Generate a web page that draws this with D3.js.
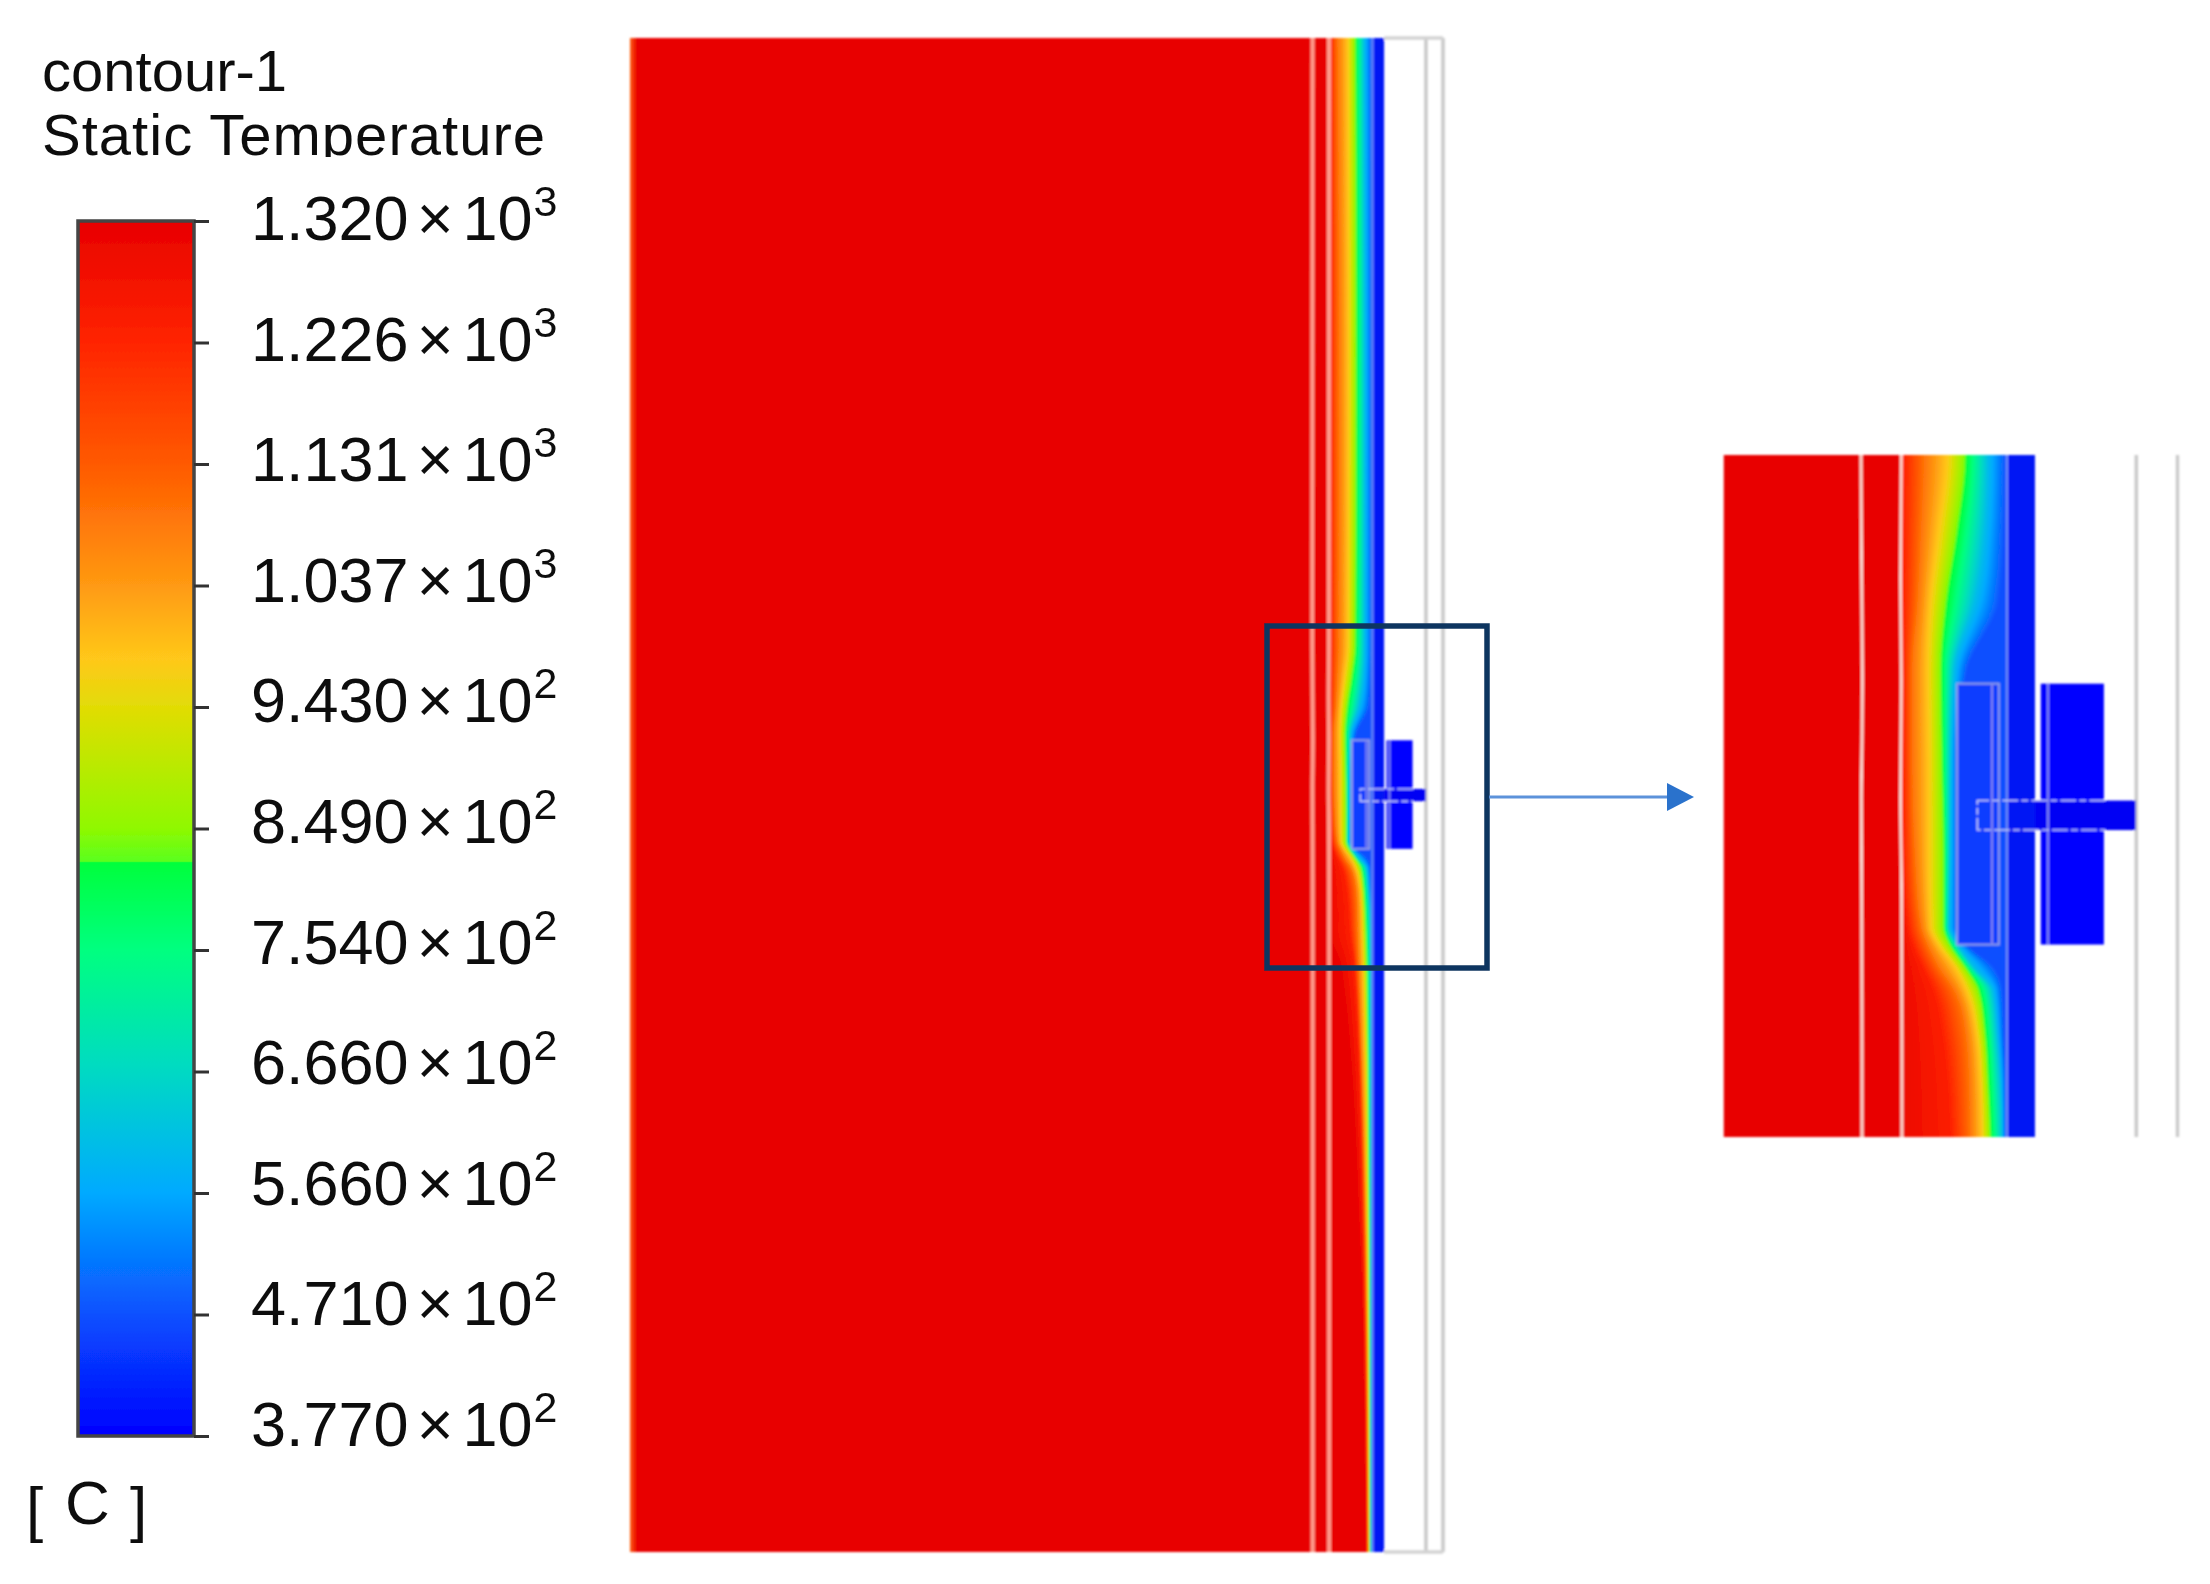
<!DOCTYPE html>
<html>
<head>
<meta charset="utf-8">
<script src="https://cdn.jsdelivr.net/npm/d3@7"></script>
<style>
html, body { margin: 0; padding: 0; background: #fff; }
text { font-family: "Liberation Sans", Arial, sans-serif; fill: #111; }
</style>
</head>
<body>
<svg id="renderer" width="2210" height="1584"></svg>
<script>
// legend
const tickValues = [1320, 1226, 1131, 1037, 943, 849, 754, 666, 566, 471, 377];
const stopTemps = [1320, 1226, 1131, 1037, 980, 943, 849, 823, 822, 754, 666, 566, 471, 377];
const stopColors = ['#e80000', '#ff2400', '#ff5a00', '#ff9a12', '#ffc81a', '#e2dc06', '#90f800', '#5aff1e',
                    '#00ff3c', '#00ff80', '#00dcc0', '#00aaff', '#0a50ff', '#0000ff'];

// isotherm positions along the plate, model units across (u) for each row down (v)
const rowV    = [0, 220, 430.7, 453.6, 473.9, 494.2, 521.2, 548.2, 569.8, 575.2, 582, 588.7, 602.2, 615.7, 632, 659, 850, 1074];
const iso1300 = [496.2, 496.2, 496.2, 496.2, 496.2, 496.2, 496.2, 496.2, 496.2, 496.2, 496.2, 496.2, 496.2, 496.2, 496.2, 505, 518, 522.8];
const iso1235 = [496.3, 496.3, 496.3, 496.3, 496.3, 496.3, 496.3, 496.3, 497.8, 499.2, 502.1, 505.1, 508, 509.5, 510.5, 514, 520.5, 523];
const iso1090 = [502, 503, 502.6, 501.7, 500.7, 499.2, 499.2, 499.9, 501.7, 503.6, 507, 511.4, 514.9, 515.8, 516.1, 517, 522, 524];
const iso975  = [509.5, 510, 509.5, 507, 504.6, 503.8, 504.1, 504.1, 504.6, 507, 511.9, 515.2, 518.3, 519.3, 519.7, 520.5, 523.3, 524.5];
const iso822  = [514.9, 515.5, 514.9, 512.4, 509.3, 507.7, 508, 508.5, 508.5, 510.3, 514.9, 518.8, 520.7, 521.5, 522.2, 523, 524.5, 525];
const iso600  = [521, 521.5, 521.2, 520.2, 517.3, 511.4, 510.5, 510.3, 510, 512.4, 517.3, 522.7, 524.1, 525.1, 525.6, 525.6, 525.8, 526];
const iso470  = [526.4, 526.6, 526.6, 526.1, 524.6, 515.3, 512.4, 512.4, 512.4, 515.3, 523.2, 525.6, 526.1, 526.6, 526.6, 526.8, 527, 527];
const isoLevels = [1300, 1235, 1090, 975, 822, 600, 470];
const isoCurves = [iso1300, iso1235, iso1090, iso975, iso822, iso600, iso470];

// joints between the layers
const jointV = [0, 430.7, 467.2, 498.2, 514.4, 532, 561.7, 632, 1074];
const joint1 = [484.4, 484.2, 484.4, 484.6, 484.5, 484.3, 484.4, 484.5, 484.5];
const joint2 = [496.1, 496, 495.8, 496, 495.9, 495.8, 496.1, 496.2, 496.2];

// plate parts, model units: [u0, u1, v0, v1]
const plateExtent = [0, 577, 0, 1074];
const wall = [527, 535.2];
const blockA = [512.4, 524.6, 498.2, 575.2];
const blockB = [536.9, 555.4, 498.2, 575.2];
const rod = [518.3, 564.7, 532.7, 541.4];
const greyLines = [564.9, 577];

const svg = d3.select('#renderer');
const defs = svg.append('defs');

const colorScale = d3.scaleLinear().domain(stopTemps).range(stopColors);

function addBlur(id, dev) {
    defs.append('filter').attr('id', id)
        .attr('filterUnits', 'userSpaceOnUse')
        .attr('x', 0).attr('y', 0).attr('width', 2210).attr('height', 1584)
        .append('feGaussianBlur').attr('stdDeviation', dev);
}
addBlur('blurField', 1.3);
addBlur('blurInset', 1.1);
addBlur('blurText', 0.6);

// colour bar ----------------------------------------------------------------
const barY = d3.scaleLinear().domain([1320, 377]).range([221, 1436]);
const tickY = d3.scalePoint().domain(tickValues).range([221, 1436]);
const labelY = d3.scalePoint().domain(tickValues).range([240, 1446]);

const grad = defs.append('linearGradient').attr('id', 'barGrad')
    .attr('x1', 0).attr('x2', 0).attr('y1', 0).attr('y2', 1);
stopTemps.forEach(function(t, i) {
    grad.append('stop').attr('offset', (barY(t) - 221) / (1436 - 221)).attr('stop-color', stopColors[i]);
});

const legend = svg.append('g').attr('filter', 'url(#blurText)');
legend.append('rect')
    .attr('x', 78).attr('y', 221).attr('width', 116).attr('height', 1215)
    .attr('fill', 'url(#barGrad)').attr('stroke', '#444').attr('stroke-width', 3.5);

const axis = d3.axisRight(tickY).tickSize(15).tickFormat('');
const axisG = legend.append('g').attr('transform', 'translate(194,0)').call(axis);
axisG.select('.domain').remove();
axisG.selectAll('line').attr('stroke', '#333').attr('stroke-width', 3);

function mantissa(v) {
    const e = Math.floor(Math.log10(v));
    return (v / Math.pow(10, e)).toFixed(3);
}
const labels = legend.selectAll('.lbl').data(tickValues).enter().append('text')
    .attr('class', 'lbl').attr('x', 251).attr('y', d => labelY(d))
    .attr('font-size', 63);
labels.append('tspan').text(d => mantissa(d));
labels.append('tspan').attr('dx', 8).text('×');
labels.append('tspan').attr('dx', 9).text('10');
labels.append('tspan').attr('dx', 1).attr('dy', -24).attr('font-size', 43)
    .text(d => Math.floor(Math.log10(d)));

legend.append('text').attr('x', 42).attr('y', 91).attr('font-size', 58).text('contour-1');
defs.append('clipPath').attr('id', 'titleClip').append('rect')
    .attr('x', 0).attr('y', 100).attr('width', 620).attr('height', 57);
legend.append('g').attr('clip-path', 'url(#titleClip)')
    .append('text').attr('x', 42).attr('y', 155).attr('font-size', 58)
    .attr('textLength', 503).attr('lengthAdjust', 'spacing').text('Static Temperature');

const unit = legend.append('text').attr('y', 1530).attr('font-size', 62);
unit.append('tspan').attr('x', 26).text('[');
unit.append('tspan').attr('x', 65).attr('dy', -6).text('C');
unit.append('tspan').attr('x', 130).attr('dy', 6).text(']');

// temperature field, drawn once for the plate and once for the detail -------
function drawField(g, x, y, uMin, vMin, vMax, jointWidth, jointColor) {
    const clipTop = y(vMin), clipBot = y(vMax);
    const box = (u0, u1, v0, v1) => g.append('rect')
        .attr('x', x(u0)).attr('y', y(v0)).attr('width', x(u1) - x(u0)).attr('height', y(v1) - y(v0));

    box(uMin, wall[0], vMin, vMax).attr('fill', colorScale(1320));

    // bands from hot to cold, each one painted up to the wall
    const steps = 12;
    d3.range(isoLevels.length).forEach(function(k) {
        const next = Math.min(k + 1, isoLevels.length - 1);
        const n = k == next ? 1 : steps;
        d3.range(n).forEach(function(s) {
            const f = s / n;
            const t = isoLevels[k] + (isoLevels[next] - isoLevels[k]) * f;
            const area = d3.area()
                .curve(d3.curveMonotoneY)
                .y(d => y(d))
                .x0((d, i) => x(isoCurves[k][i] + (isoCurves[next][i] - isoCurves[k][i]) * f))
                .x1(x(wall[0] + 0.5));
            g.append('path').attr('d', area(rowV)).attr('fill', colorScale(t));
        });
    });

    box(wall[0], wall[1], vMin, vMax).attr('fill', '#0414f4');

    const jointLine = (arr) => d3.line().curve(d3.curveMonotoneY).x((d, i) => x(arr[i])).y(d => y(d))(jointV);
    [joint1, joint2].forEach(function(arr) {
        g.append('path').attr('d', jointLine(arr)).attr('fill', 'none')
            .attr('stroke', jointColor).attr('stroke-width', jointWidth);
    });

    greyLines.forEach(function(u) {
        g.append('line').attr('x1', x(u)).attr('x2', x(u)).attr('y1', clipTop).attr('y2', clipBot)
            .attr('stroke', '#c9c9c9').attr('stroke-width', 3.5);
    });

    box(blockA[0], blockA[1], blockA[2], blockA[3]).attr('fill', '#0c3cff')
        .attr('stroke', '#8f9ce8').attr('stroke-width', 2);
    box(blockB[0], blockB[1], blockB[2], blockB[3]).attr('fill', '#0000ff');
    box(wall[1], rod[1], rod[2], rod[3]).attr('fill', '#0000f4');

    // inner edges and the dashed outline of the rod
    [blockA[1] - 2, blockB[0] + 2.1].forEach(function(u) {
        g.append('line').attr('x1', x(u)).attr('x2', x(u)).attr('y1', y(blockA[2])).attr('y2', y(blockA[3]))
            .attr('stroke', '#7f84f0').attr('stroke-width', 2);
    });
    g.append('line').attr('x1', x(wall[0])).attr('x2', x(wall[0])).attr('y1', clipTop).attr('y2', clipBot)
        .attr('stroke', '#6c8cf8').attr('stroke-width', 2);
    const rodEnd = blockB[1] + 0.4;
    g.append('path')
        .attr('d', d3.line()([[x(rodEnd), y(rod[2])], [x(rod[0]), y(rod[2])], [x(rod[0]), y(rod[3])], [x(rodEnd), y(rod[3])]]))
        .attr('fill', 'none').attr('stroke', '#c4ccf4').attr('stroke-width', 1.6)
        .attr('stroke-dasharray', '16 3 7 3');
}

// plate
const mainX = d3.scaleLinear().domain([plateExtent[0], plateExtent[1]]).range([630, 1443]);
const mainY = d3.scaleLinear().domain([plateExtent[2], plateExtent[3]]).range([38, 1552]);
const mainG = svg.append('g').attr('filter', 'url(#blurField)');
drawField(mainG, mainX, mainY, plateExtent[0], plateExtent[2], plateExtent[3], 4, '#ff9c8c');

const edge = defs.append('linearGradient').attr('id', 'edgeGrad');
edge.append('stop').attr('offset', 0).attr('stop-color', '#ff6010');
edge.append('stop').attr('offset', 1).attr('stop-color', '#e80000');
mainG.append('rect').attr('x', 630).attr('y', 38).attr('width', 7).attr('height', 1514).attr('fill', 'url(#edgeGrad)');

// frame of the outer grey rectangle
[plateExtent[2], plateExtent[3]].forEach(function(v) {
    mainG.append('line').attr('x1', mainX(wall[1])).attr('x2', mainX(plateExtent[1]))
        .attr('y1', mainY(v)).attr('y2', mainY(v))
        .attr('stroke', '#d2d2d2').attr('stroke-width', 3.5);
});

// detail
const detailU = [443.9, 577];
const detailV = [430.7, 632];
const insetX = d3.scaleLinear().domain(detailU).range([1723.5, 2177.6]);
const insetY = d3.scaleLinear().domain(detailV).range([455, 1137]);
defs.append('clipPath').attr('id', 'insetClip').append('rect')
    .attr('x', 1723.5).attr('y', 455).attr('width', 456).attr('height', 682);
const insetG = svg.append('g').attr('filter', 'url(#blurInset)')
    .append('g').attr('clip-path', 'url(#insetClip)');
drawField(insetG, insetX, insetY, detailU[0], detailV[0], detailV[1], 3, '#fbd8d0');

// zoom box and arrow ---------------------------------------------------------
const marks = svg.append('g').attr('filter', 'url(#blurText)');
marks.append('rect').attr('x', 1267).attr('y', 626).attr('width', 220).attr('height', 342)
    .attr('fill', 'none').attr('stroke', '#0c3560').attr('stroke-width', 5.5);
marks.append('line').attr('x1', 1489).attr('x2', 1670).attr('y1', 797).attr('y2', 797)
    .attr('stroke', '#5c92da').attr('stroke-width', 2.8);
marks.append('path').attr('d', d3.line()([[1667, 783], [1694, 797], [1667, 811]]) + 'Z').attr('fill', '#2a72cc');
</script>
</body>
</html>
